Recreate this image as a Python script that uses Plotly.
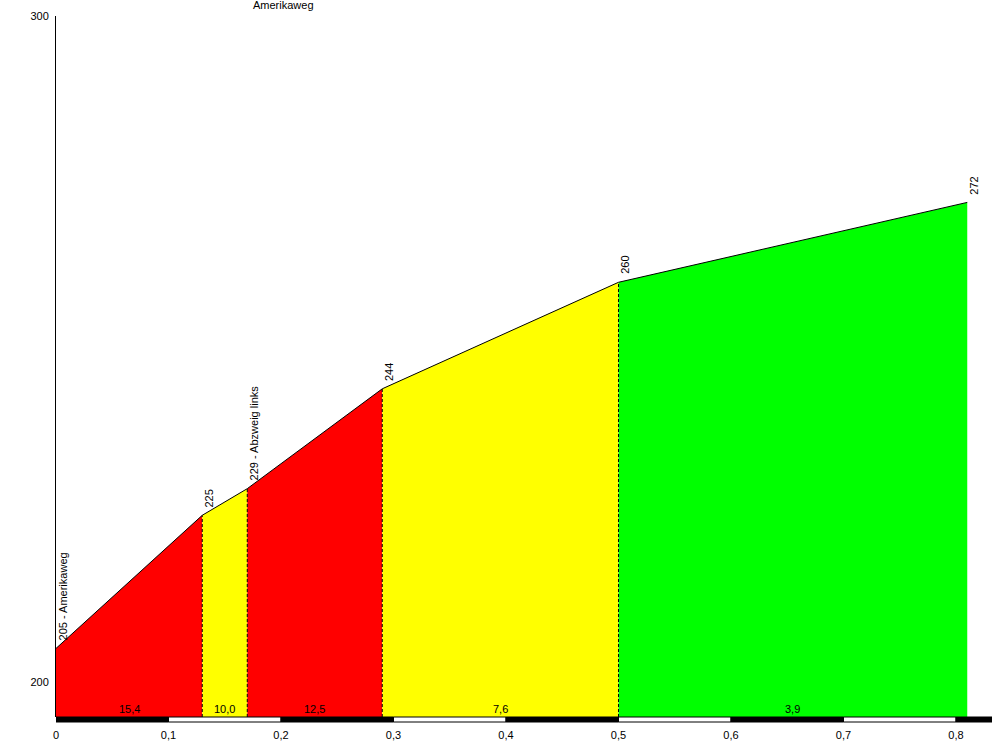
import plotly.graph_objects as go

# ---- data ----
TITLE = "Amerikaweg"
dist_km = [0.0, 0.13, 0.17, 0.29, 0.50, 0.81]
elev_m = [205, 225, 229, 244, 260, 272]
point_names = ["Amerikaweg", "", "Abzweig links", "", "", ""]
grad_labels = ["15,4", "10,0", "12,5", "7,6", "3,9"]
seg_colors = ["#FF0000", "#FFFF00", "#FF0000", "#FFFF00", "#00FF00"]
x_ticks = [0, 0.1, 0.2, 0.3, 0.4, 0.5, 0.6, 0.7, 0.8]
x_ticklabels = ["0", "0,1", "0,2", "0,3", "0,4", "0,5", "0,6", "0,7", "0,8"]
y_ticks = [200, 300]
y_ticklabels = ["200", "300"]

XMAX = 0.832
YMIN = 194.7
YMAX = 300
FONT = dict(family="Liberation Sans, Arial, sans-serif", size=11, color="black")

fig = go.Figure()

# filled segments
for i in range(len(dist_km) - 1):
    x0, x1 = dist_km[i], dist_km[i + 1]
    y0, y1 = elev_m[i], elev_m[i + 1]
    fig.add_trace(go.Scatter(
        x=[x0, x0, x1, x1, x0], y=[YMIN, y0, y1, YMIN, YMIN],
        mode="lines", fill="toself", fillcolor=seg_colors[i],
        line=dict(width=0, color=seg_colors[i]), hoverinfo="skip", showlegend=False))

# dashed separators
for i in range(1, len(dist_km) - 1):
    fig.add_trace(go.Scatter(
        x=[dist_km[i], dist_km[i]], y=[YMIN, elev_m[i]], mode="lines",
        line=dict(color="black", width=1, dash="3px,2px"),
        hoverinfo="skip", showlegend=False))

# profile line
fig.add_trace(go.Scatter(x=dist_km, y=elev_m, mode="lines",
                         line=dict(color="black", width=1),
                         hoverinfo="skip", showlegend=False))

annotations = []
# elevation labels
for x, y, n in zip(dist_km, elev_m, point_names):
    txt = f"{y} - {n}" if n else f"{y}"
    annotations.append(dict(x=x, y=y, xref="x", yref="y", text=txt, textangle=-90,
                            showarrow=False, xanchor="center", yanchor="bottom",
                            xshift=7, yshift=6, font=FONT))
# gradient labels
for i, g in enumerate(grad_labels):
    annotations.append(dict(x=(dist_km[i] + dist_km[i + 1]) / 2, y=YMIN, xref="x", yref="y",
                            text=g, showarrow=False, xanchor="center", yanchor="bottom",
                            yshift=0, font=FONT))
# title
annotations.append(dict(x=(283 - 56) / 936, y=1.0, xref="paper", yref="paper", text=TITLE,
                        showarrow=False, xanchor="center", yanchor="bottom",
                        yshift=3, font=FONT))

# scale bar
shapes = []
bar_h = 5 / 701
for i in range(len(x_ticks)):
    xa = x_ticks[i]
    xb = min(xa + 0.1, XMAX + 0.01)
    fill = "black" if i % 2 == 0 else "white"
    shapes.append(dict(type="rect", xref="x", yref="paper", x0=xa, x1=xb,
                       y0=-bar_h, y1=0, fillcolor=fill,
                       line=dict(color="black", width=1), layer="above"))

fig.update_layout(
    width=992, height=754,
    margin=dict(l=56, r=0, t=16, b=37),
    paper_bgcolor="white", plot_bgcolor="white",
    font=FONT,
    annotations=annotations, shapes=shapes,
    xaxis=dict(range=[0, XMAX], tickvals=x_ticks, ticktext=x_ticklabels,
               showgrid=False, zeroline=False, showline=False, ticks="",
               ticklabelstandoff=10, fixedrange=True),
    yaxis=dict(range=[YMIN, YMAX], tickvals=y_ticks, ticktext=y_ticklabels,
               showgrid=False, zeroline=False, showline=True, linecolor="black",
               linewidth=1, ticks="inside", ticklen=3, tickcolor="red",
               ticklabelstandoff=4, fixedrange=True),
)

fig.write_html(
    "out.html",
    config={"displayModeBar": False, "staticPlot": True},
    post_script="document.body.style.margin='0';document.body.style.overflow='hidden';",
)
